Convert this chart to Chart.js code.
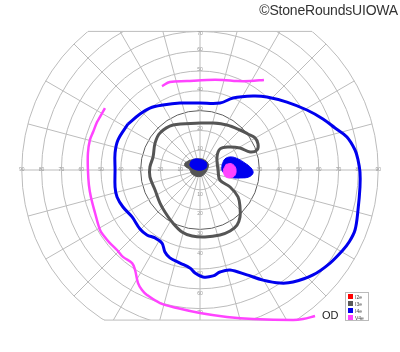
<!DOCTYPE html>
<html><head><meta charset="utf-8">
<script src="https://cdn.jsdelivr.net/npm/chart.js@4.4.1/dist/chart.umd.min.js"></script>
<style>
html,body{margin:0;padding:0;background:#fff;}
#wrap{position:relative;width:400px;height:352px;overflow:hidden;background:#fff;}
#c{position:absolute;left:0;top:0;}
.copy{position:absolute;right:2px;top:2px;font:14px "Liberation Sans",Arial,sans-serif;color:#333;letter-spacing:-0.2px;}
.od{position:absolute;left:322px;top:309px;font:11px "Liberation Sans",Arial,sans-serif;color:#222;}
.legend{position:absolute;left:345px;top:292px;width:24px;height:29px;border:1px solid #bbb;box-sizing:border-box;background:#fff;}
.legend .row{position:absolute;left:1px;height:6px;font:5px "Liberation Sans",Arial,sans-serif;color:#444;line-height:6px;}
.legend .sw{position:absolute;left:1px;top:0;width:5px;height:5px;}
.legend .tx{position:absolute;left:8px;top:0;white-space:nowrap;}
</style></head>
<body>
<div id="wrap">
<canvas id="c" width="400" height="352"></canvas>
<div class="copy">©StoneRoundsUIOWA</div>
<div class="od">OD</div>
<div class="legend" id="legend"></div>
</div>
<script>
// ---- tick labels / grid values (degrees of visual field) ----
const ringTicks = [10,20,30,40,50,60,70,80,90];
const upperTicks = [10,20,30,40,50,60,70];
const lowerTicks = [10,20,30,40,50,60,70];
const meridians = [0,15,30,45,60,75,90,105,120,135,150,165,180,195,210,225,240,255,270,285,300,315,330,345];
const FIELD_TOP = 70, FIELD_BOTTOM = -75.8, FIELD_RADIUS = 90;

// ---- legend ----
const legendLabels = ['I2e','I3e','I4e','V4e'];
const legendColors = ['#ff0000','#5a5a5a','#0000ee','#ff44ff'];

// ---- isopters (x = horizontal degrees, y = vertical degrees) ----
const i3eIsopter = [
 [0,23.7],[6.6,23.7],[13.6,22.7],[20.2,20.2],[24.2,18.2],[27.8,16.2],[29.3,13.1],[28.8,10.1],
 [25.3,9.1],[20.2,11.1],[14.1,11.6],[10.1,10.6],[8.6,6.6],[9.1,0],[10.1,-5.1],[15.2,-8.6],
 [19.2,-13.6],[20.2,-18.7],[20.2,-23.7],[18.7,-27.8],[15.2,-30.8],[10.1,-32.8],[2.5,-33.8],
 [-4.0,-33.3],[-9.1,-31.3],[-14.1,-26.3],[-17.7,-21.2],[-20.2,-16.7],[-22.7,-10.1],[-25.3,-3.5],
 [-25.3,1.5],[-23.7,6.6],[-22.7,13.6],[-20.2,18.7],[-13.6,22.7]
];
const i4eIsopter = [
 [-36.4,23.2],[-30.3,28.3],[-25.3,31.3],[-18.7,32.8],[-10.1,33.8],[0,33.8],[10.1,33.8],[16.7,36.4],
 [26.8,37.4],[33.8,36.9],[43.9,34.3],[54.0,30.3],[62.1,25.8],[68.2,21.2],[74.2,16.7],[78.3,10.1],
 [79.8,5.1],[80.8,-1.0],[80.8,-8.6],[79.8,-20.2],[78.3,-30.3],[75.3,-36.4],[72.2,-40.4],[65.7,-47.0],
 [57.1,-53.0],[47.0,-56.6],[40.4,-57.1],[31.8,-55.6],[23.7,-53.0],[15.2,-50.5],[10.1,-51.5],[6.6,-53.5],
 [1.5,-54.0],[-2.5,-52.0],[-5.1,-49.5],[-10.1,-47.0],[-15.2,-44.4],[-17.7,-41.4],[-19.2,-36.9],
 [-22.7,-34.3],[-26.8,-32.8],[-30.3,-29.8],[-34.3,-23.7],[-38.9,-18.7],[-41.9,-13.6],[-42.9,-8.6],
 [-42.9,0],[-42.9,8.6],[-41.4,15.2]
];
const v4eUpper = [
 [-19.2,42.4],[-15.2,44.4],[-6.6,44.9],[3.5,45.5],[11.6,45.5],[18.7,44.9],[25.3,44.9],[32.3,45.5]
];
const v4eLowerNasal = [
 [-48.0,31.3],[-50.5,26.8],[-52.0,24.2],[-54.0,19.2],[-55.6,15.2],[-56.6,8.6],[-56.6,0],[-56.1,-7.6],
 [-55.1,-13.6],[-53.0,-21.7],[-50.5,-30.3],[-48.5,-33.3],[-45.5,-36.9],[-41.9,-40.4],[-38.9,-43.9],
 [-34.3,-47.0],[-32.8,-50.5],[-31.3,-57.1],[-29.3,-60.6],[-26.8,-63.1],[-20.2,-67.2],[-11.6,-69.7],
 [0,-72.2],[13.6,-74.2],[26.8,-75.3],[47.0,-75.8],[52.0,-75.3],[58.1,-73.7]
];
const i4eBlindSpot = [
 [11.1,2.5],[12.6,5.6],[15.7,6.6],[19.2,5.6],[22.7,3.5],[25.8,1.0],[26.8,-1.5],[24.7,-3.5],
 [20.7,-4.0],[16.2,-3.8],[12.6,-2.0],[11.1,0]
];
const v4eBlindSpot = [
 [13.1,2.8],[15.7,3.2],[17.7,1.7],[18.2,-1.0],[17.2,-3.2],[14.6,-4.0],[12.6,-3.0],[11.8,-0.3]
];
const i3eCentral = [
 [-7.6,3.5],[-6.1,4.5],[-3.5,5.3],[1.0,5.6],[3.5,4.2],[4.3,2.5],[3.8,0.5],[2.5,-1.8],[0.5,-3.2],
 [-2.0,-3.2],[-4.3,-1.8],[-5.3,0.5],[-6.8,1.3],[-7.8,2.3]
];
const i4eCentral = [
 [-4.5,4.5],[-2.5,5.6],[1.0,5.1],[3.0,4.0],[3.5,2.5],[3.0,1.0],[1.0,0],[-1.5,0],[-4.0,1.0],[-5.1,2.5]
];

const pts = a => a.map(p => ({x:p[0], y:p[1]}));
const closed = a => pts(a.concat([a[0]]));

// legend html
const lg = document.getElementById('legend');
legendLabels.forEach((t,i)=>{
  const r = document.createElement('div');
  r.className='row'; r.style.top = (1+i*7)+'px';
  r.innerHTML = '<span class="sw" style="background:'+legendColors[i]+'"></span><span class="tx">'+t+'</span>';
  lg.appendChild(r);
});

const GRID = '#bcbcbc';
const polarGrid = {
  id:'polarGrid',
  beforeDatasetsDraw(chart){
    const ctx = chart.ctx, x = chart.scales.x, y = chart.scales.y;
    const cx = x.getPixelForValue(0), cy = y.getPixelForValue(0);
    const rad = r => x.getPixelForValue(r) - cx;
    const R = rad(FIELD_RADIUS);
    const top = y.getPixelForValue(FIELD_TOP), bot = y.getPixelForValue(FIELD_BOTTOM);
    ctx.save();
    ctx.beginPath(); ctx.rect(0, top, chart.width, bot-top); ctx.clip();
    ctx.lineWidth = 1;
    ringTicks.forEach(r=>{
      ctx.beginPath(); ctx.arc(cx,cy,rad(r),0,Math.PI*2);
      ctx.strokeStyle = r===30 ? '#5e5e5e' : GRID;
      ctx.stroke();
    });
    ctx.strokeStyle = GRID;
    meridians.forEach(a=>{
      const t = a*Math.PI/180;
      ctx.beginPath();
      ctx.moveTo(cx,cy);
      ctx.lineTo(x.getPixelForValue(FIELD_RADIUS*Math.cos(t)), y.getPixelForValue(FIELD_RADIUS*Math.sin(t)));
      ctx.stroke();
    });
    ctx.restore();
    // field edges
    ctx.save();
    ctx.strokeStyle = GRID; ctx.lineWidth = 1;
    [top, bot].forEach(py=>{
      const dy = py-cy, dx = Math.sqrt(Math.max(0,R*R-dy*dy));
      ctx.beginPath(); ctx.moveTo(cx-dx,py); ctx.lineTo(cx+dx,py); ctx.stroke();
    });
    // tick labels
    ctx.fillStyle = '#999';
    ctx.font = '5px "Liberation Sans", Arial, sans-serif';
    ctx.textAlign = 'center'; ctx.textBaseline = 'middle';
    ringTicks.forEach(r=>{
      ctx.fillText(String(r), x.getPixelForValue(-r), cy);
      ctx.fillText(String(r), x.getPixelForValue(r), cy);
    });
    upperTicks.forEach(r=>{
      let py = y.getPixelForValue(r) - 1.5;
      if (py < top + 2.5) py = top + 2.5;
      ctx.fillText(String(r), cx, py);
    });
    lowerTicks.forEach(r=>{
      let py = y.getPixelForValue(-r) + 4.5;
      ctx.fillText(String(r), cx, py);
    });
    ctx.restore();
  }
};

const BLUE = '#0000ee', MAG = '#ff44ff', GRAY = '#555555';
const lineDs = (data, color, w, order, extra) => Object.assign({
  data, showLine:true, borderColor:color, backgroundColor:color, borderWidth:w,
  pointRadius:0, tension:0.35, fill:false, order
}, extra||{});

new Chart(document.getElementById('c'), {
  type:'scatter',
  data:{datasets:[
    lineDs(closed(v4eBlindSpot), MAG, 1, 0, {fill:'shape', tension:0.4}),
    lineDs(closed(i4eBlindSpot), BLUE, 1, 1, {fill:'shape', tension:0.4}),
    lineDs(closed(i4eCentral), BLUE, 1, 2, {fill:'shape', tension:0.3}),
    lineDs(closed(i3eCentral), GRAY, 1, 3, {fill:'shape', tension:0.3}),
    lineDs(pts(v4eUpper), MAG, 2.5, 4),
    lineDs(pts(v4eLowerNasal), MAG, 2.5, 5),
    lineDs(closed(i4eIsopter), BLUE, 3, 6),
    lineDs(closed(i3eIsopter), GRAY, 3, 7)
  ]},
  options:{
    responsive:false, animation:false, devicePixelRatio:1,
    layout:{padding:0},
    plugins:{legend:{display:false}, tooltip:{enabled:false}},
    scales:{
      x:{type:'linear', min:-101.01, max:101.01, display:false},
      y:{type:'linear', min:-91.92, max:85.86, display:false}
    }
  },
  plugins:[polarGrid]
});
</script>
</body></html>
